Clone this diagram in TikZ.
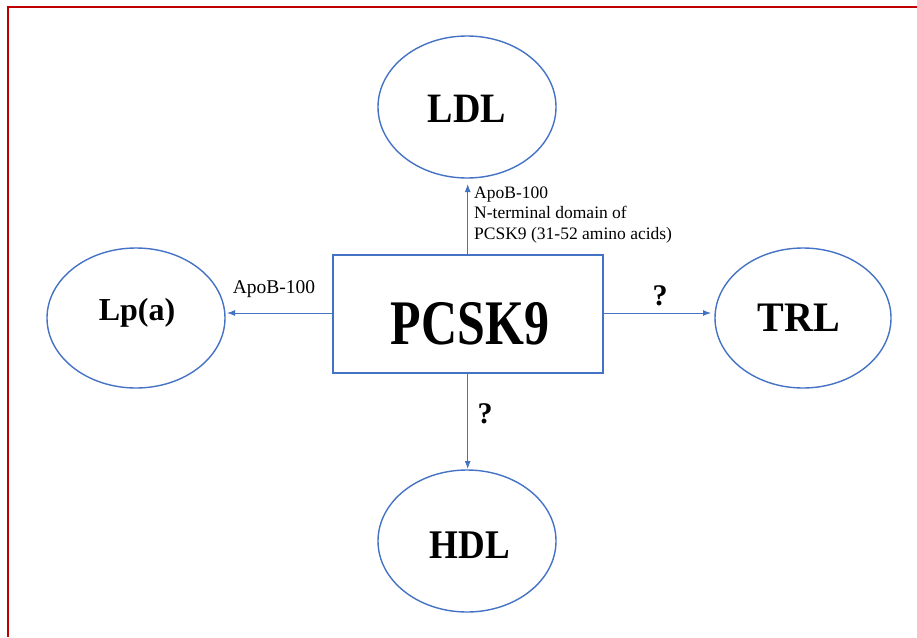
\documentclass[tikz,border=0pt]{standalone}
\usepackage{fontspec}
\setmainfont{Liberation Serif}
\usetikzlibrary{arrows.meta}
\definecolor{lineblue}{HTML}{4472C4}
\definecolor{framered}{HTML}{C00000}
\tikzset{
  conn/.style={draw=lineblue, line width=1pt, -{Latex[length=8pt,width=6pt]}},
  smalltext/.style={font=\rmfamily\fontsize{17.5}{20.5}\selectfont, inner sep=0pt},
  bigsmalltext/.style={font=\rmfamily\fontsize{19.5}{22}\selectfont, inner sep=0pt},
  qmark/.style={font=\rmfamily\fontsize{30}{32}\selectfont\bfseries, inner sep=0pt},
}
\begin{document}
\begin{tikzpicture}[x=1pt,y=-1pt]
\useasboundingbox (0,0) rectangle (917,637);
% frame
\draw[framered, line width=2pt] (8,637) -- (8,6.5) -- (917,6.5);
% ellipses
\draw[lineblue, line width=1.4pt] (467,107) ellipse [x radius=89, y radius=71];
\draw[lineblue, line width=1.4pt] (136,318) ellipse [x radius=89, y radius=70];
\draw[lineblue, line width=1.4pt] (803,318) ellipse [x radius=88, y radius=70];
\draw[lineblue, line width=1.4pt] (467,541) ellipse [x radius=89, y radius=71];
\coordinate (ldlb) at (467.7,184);
\coordinate (lpar) at (227,313);
\coordinate (trll) at (711,313);
\coordinate (hdlt) at (467.7,469);
\node[font=\fontsize{38}{40}\selectfont\bfseries] (ldl) at (467,109) {\scalebox{1}[1.1]{LDL}};
\node[font=\fontsize{32}{34}\selectfont\bfseries] (lpa) at (137,313) {Lp(a)};
\node[font=\fontsize{40}{42}\selectfont\bfseries] (trl) at (799,318) {\scalebox{1}[1.05]{TRL}};
\node[font=\fontsize{37}{40}\selectfont\bfseries] (hdl) at (470,545) {\scalebox{1}[1.1]{HDL}};
% box
\node[draw=lineblue, line width=1.4pt, minimum width=270pt, minimum height=118pt, inner sep=0pt] (box) at (468,314) {};
\node[font=\fontsize{50}{52}\selectfont\bfseries] (pcsk) at (470,323.5) {\scalebox{1}[1.27]{PCSK9}};
% connectors
\draw[conn] (box.north -| ldlb) -- (ldlb);
\draw[conn] (box.west |- lpar) -- (lpar);
\draw[conn] (box.east |- trll) -- (trll);
\draw[conn] (box.south -| hdlt) -- (hdlt);
% labels
\node[smalltext, anchor=west, align=left] (lab1) at (474,215) {ApoB-100\\N-terminal domain of\\PCSK9 (31-52 amino acids)};
\node[bigsmalltext] (lab2) at (274,289) {ApoB-100};
\node[qmark] (q1) at (660,296) {?};
\node[qmark] (q2) at (485,414) {?};
\end{tikzpicture}
\end{document}
